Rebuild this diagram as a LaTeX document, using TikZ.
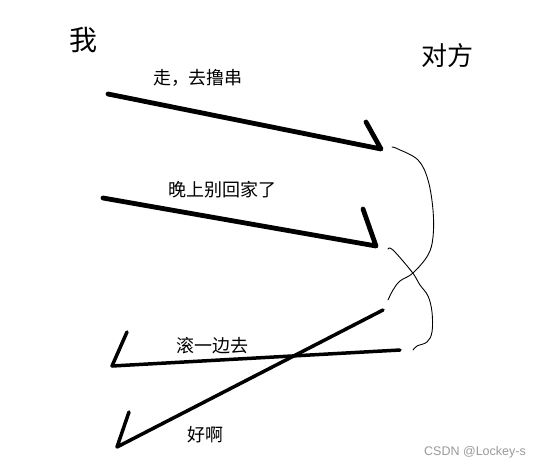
\documentclass[tikz,border=0pt]{standalone}
\usepackage{fontspec}
\setmainfont{Liberation Sans}
\newfontfamily\cjk{Noto Sans CJK SC}
\begin{document}
\begin{tikzpicture}[x=1pt,y=-1pt,
  heavy/.style={line width=4.8pt,line cap=round,line join=round},
  medium/.style={line width=3.5pt,line cap=round,line join=round},
  thin/.style={line width=0.9pt,line cap=round},
  lbl/.style={inner sep=0pt,font=\cjk\fontsize{18}{18}\selectfont},
  party/.style={inner sep=0pt}]
\useasboundingbox (0,0) rectangle (542,469);
% parties
\node[party,font=\cjk\fontsize{28}{28}\selectfont] (me) at (83,40) {我};
\node[party,font=\cjk\fontsize{26}{26}\selectfont] (other) at (447,56) {对方};
% message labels
\node[lbl] (m1) at (198,78) {走，去撸串};
\node[lbl] (m2) at (222,190) {晚上别回家了};
\node[lbl] (m3) at (212,346) {滚一边去};
\node[lbl] (m4) at (205,435) {好啊};
% endpoints
\coordinate (a1s) at (108,94);  \coordinate (a1e) at (381,149); \coordinate (a1h) at (366,122);
\coordinate (a2s) at (103,198); \coordinate (a2e) at (376,246); \coordinate (a2h) at (363,209);
\coordinate (a3s) at (400,350); \coordinate (a3e) at (112,366); \coordinate (a3h) at (127,332);
\coordinate (a4s) at (383,310); \coordinate (a4e) at (117,447); \coordinate (a4h) at (129,412);
% arrows
\draw[heavy] (a1s) -- (a1e) -- (a1h);
\draw[heavy] (a2s) -- (a2e) -- (a2h);
\draw[medium] (a3s) -- (a3e) -- (a3h);
\draw[medium] (a4s) -- (a4e) -- (a4h);
% thin curves
\draw[thin] plot[smooth,tension=0.6] coordinates {(392,147) (398,149) (418,160) (428,180) (433,210) (433,237) (428,255) (413,273) (400,281) (393,290) (388,300)};
\draw[thin] plot[smooth,tension=0.6] coordinates {(388,249) (393,250) (412,272) (420,285) (428,296) (432,312) (432,332) (427,342) (417,346) (413,350)};
% watermark
\node[inner sep=0pt,text=black!40,font=\fontsize{12.5}{13}\selectfont] (wm) at (475,452) {CSDN @Lockey-s};
\end{tikzpicture}
\end{document}
